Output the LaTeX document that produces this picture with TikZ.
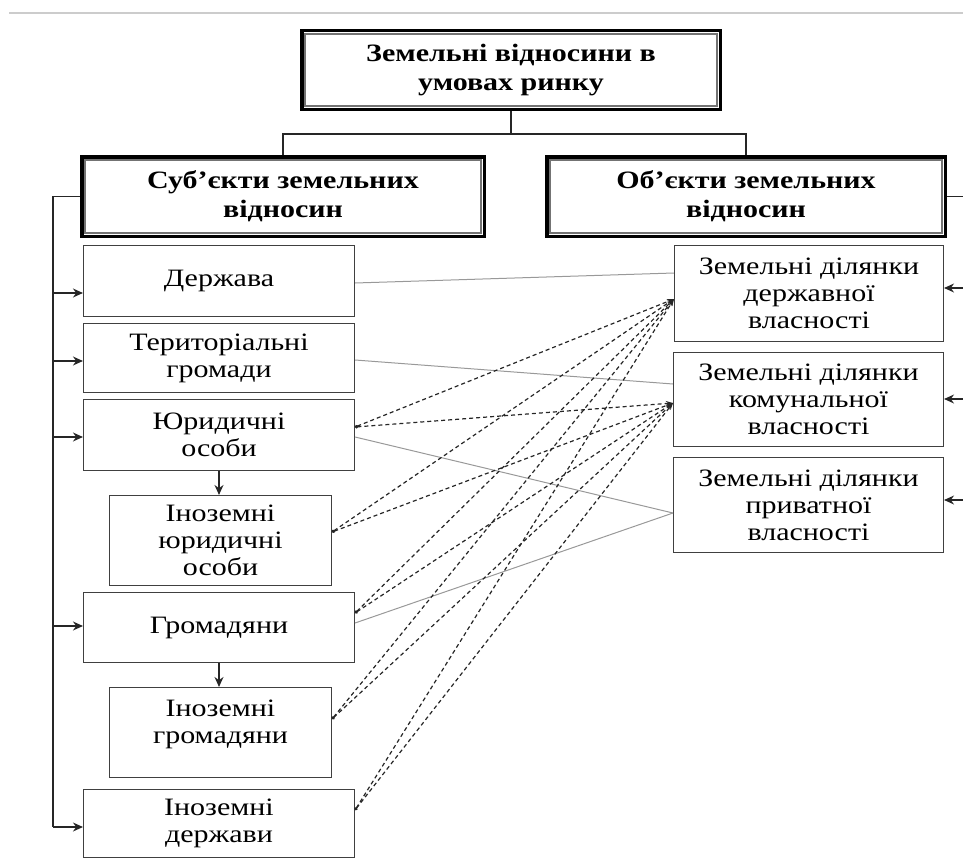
\documentclass[tikz,border=0pt]{standalone}
\usepackage{fontspec}
\setmainfont{Liberation Serif}[FakeStretch=1.2]
\usetikzlibrary{arrows.meta}
\tikzset{
  headbox/.style={draw=black, line width=3.5pt, fill=white, inner sep=0pt, align=center,
    font=\bfseries\fontsize{25}{29}\selectfont},
  itembox/.style={draw=black!75, line width=1.4pt, fill=white, inner sep=0pt, align=center,
    font=\fontsize{25}{27}\selectfont},
  link/.style={draw=black!85, line width=1.3pt},
  solidlink/.style={draw=black!40, line width=1pt},
  dashlink/.style={draw=black!85, line width=1.2pt, dash pattern=on 4pt off 3pt,
    arrows={Circle[length=3pt]-Stealth[length=7pt,width=5pt]}}
}
\begin{document}
\begin{tikzpicture}[x=1pt,y=-1pt,>={Stealth[length=10pt,width=9pt]}]
\useasboundingbox (0,0) rectangle (963,859);
\clip (0,0) rectangle (963,859);
\draw[black!20, line width=1.5pt] (9,13) -- (963,13);

\node[headbox, minimum width=418.5, minimum height=78.5] (root) at (511,70) {Земельні відносини в\\умовах ринку};
\node[headbox, minimum width=402.5, minimum height=79.5] (subj) at (283,196.5) {Суб’єкти земельних\\відносин};
\node[headbox, minimum width=398.5, minimum height=79.5] (obj) at (746,196.5) {Об’єкти земельних\\відносин};
\foreach \n in {root,subj,obj}
  \draw[black!55, line width=1.2pt] ([shift={(5pt,5pt)}]\n.south west) rectangle ([shift={(-5pt,-5pt)}]\n.north east);

\node[itembox, minimum width=270.7, minimum height=70.7] (derzh) at (219,281) {Держава};
\node[itembox, minimum width=270.7, minimum height=68.7] (teryt) at (219,358) {Територіальні\\громади};
\node[itembox, minimum width=270.7, minimum height=70.7] (yur) at (219,435) {Юридичні\\особи};
\node[itembox, minimum width=221.7, minimum height=89.7] (inyur) at (220.5,540.5) {Іноземні\\юридичні\\особи};
\node[itembox, minimum width=270.7, minimum height=69.7] (hrom) at (219,627.5) {Громадяни};
\node[itembox, minimum width=221.7, minimum height=89.7] (inhrom) at (220.5,732.5) {Іноземні\\громадяни\\[-14pt]\strut};
\node[itembox, minimum width=270.7, minimum height=67.7] (inderzh) at (219,823.5) {Іноземні\\держави};

\node[itembox, minimum width=268.7, minimum height=95.7] (dv) at (809,293.5) {Земельні ділянки\\державної\\власності};
\node[itembox, minimum width=269.7, minimum height=93.7] (kv) at (808.5,399.5) {Земельні ділянки\\комунальної\\власності};
\node[itembox, minimum width=269.7, minimum height=94.7] (pv) at (808.5,505) {Земельні ділянки\\приватної\\власності};

\coordinate (split) at (511,134);
\draw[link] (root.south) -- (split) -| (subj.north);
\draw[link] (split) -| (obj.north);

\coordinate (lbus) at (53,196.5);
\draw[link] (subj.west) -- (lbus) -- ([yshift=-3.5pt]lbus |- inderzh.west);
\foreach \n/\dy in {derzh/-12,teryt/-3,yur/-2,hrom/1.5,inderzh/-3.5}
  \draw[link,->] ([yshift=\dy pt]lbus |- \n.west) -- ([yshift=\dy pt]\n.west);
\draw[link,->] (yur.south) -- (yur.south |- inyur.north);
\draw[link,->] (hrom.south) -- (hrom.south |- inhrom.north);

\coordinate (rbus) at (975,196.5);
\draw[link] (obj.east) -- (rbus) -- ([yshift=5pt]rbus |- pv.east);
\foreach \n/\dy in {dv/5.5,kv/0.5,pv/5}
  \draw[link,->] ([yshift=\dy pt]rbus |- \n.east) -- ([yshift=\dy pt]\n.east);

\draw[solidlink] ([yshift=-2pt]derzh.east) -- ([yshift=20.5pt]dv.west);
\draw[solidlink] ([yshift=-2pt]teryt.east) -- ([yshift=15.5pt]kv.west);
\draw[solidlink] ([yshift=-2pt]yur.east) -- ([yshift=-8pt]pv.west);
\draw[solidlink] ([yshift=4.5pt]hrom.east) -- ([yshift=-8pt]pv.west);

\coordinate (dvin) at ([yshift=-5.5pt]dv.west);
\coordinate (kvin) at ([yshift=-3.5pt]kv.west);
\foreach \n/\dy in {yur/8,inyur/8.5,hrom/14.5,inhrom/13.5,inderzh/13.5}{
  \draw[dashlink] ([yshift=\dy pt]\n.east) -- (dvin);
  \draw[dashlink] ([yshift=\dy pt]\n.east) -- (kvin);
}
\end{tikzpicture}
\end{document}
